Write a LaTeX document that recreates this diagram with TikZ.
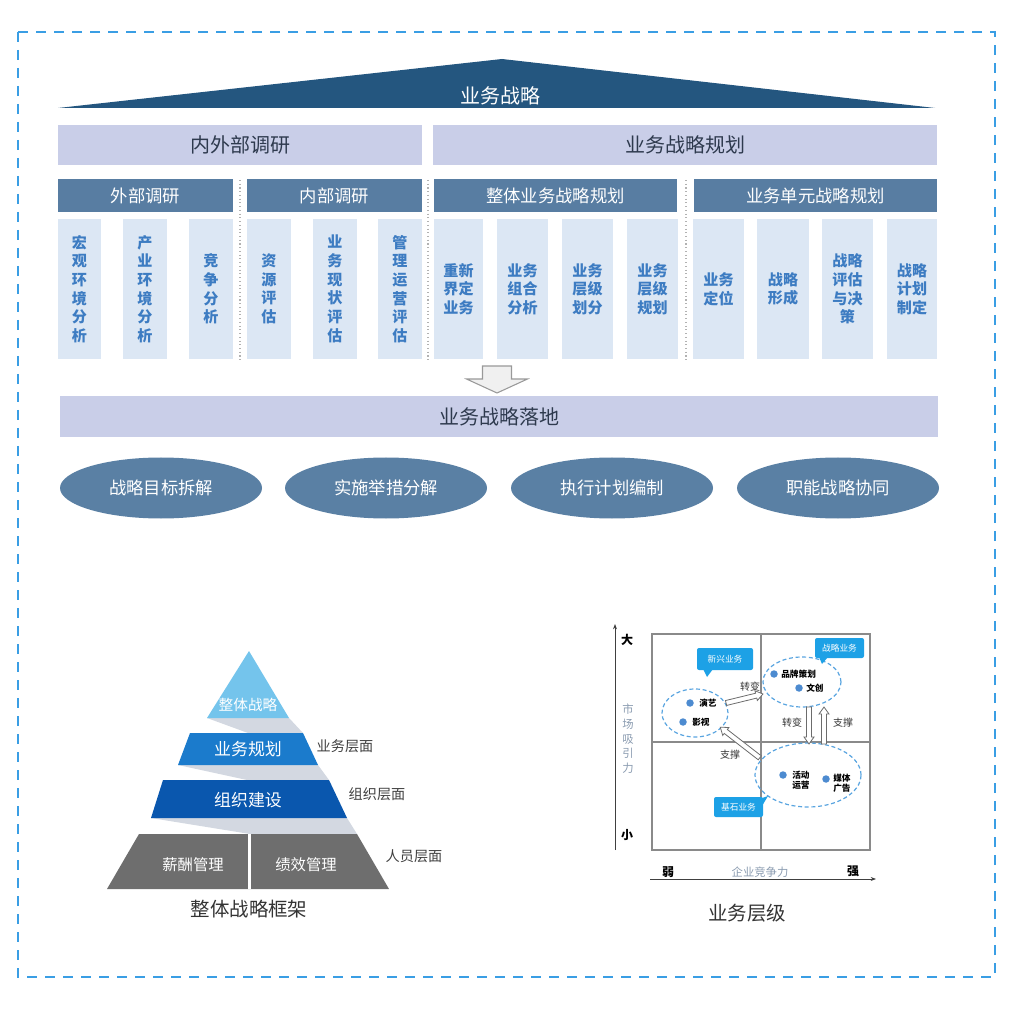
\documentclass[tikz,border=0pt]{standalone}
\usepackage{fontspec}
\setmainfont{Noto Sans CJK SC}
\usetikzlibrary{shapes.geometric,calc,arrows.meta}
\definecolor{bord}{HTML}{3A9EE4}
\definecolor{roof}{HTML}{24567F}
\definecolor{lav}{HTML}{C9CEE8}
\definecolor{hdr}{HTML}{587DA2}
\definecolor{colf}{HTML}{DCE7F4}
\definecolor{colt}{HTML}{3D7CC2}
\definecolor{dtxt}{HTML}{2E3A4E}
\definecolor{ellf}{HTML}{5A80A4}
\definecolor{pyt}{HTML}{74C4EC}
\definecolor{py1}{HTML}{1B7BCC}
\definecolor{py2}{HTML}{0A57AE}
\definecolor{py3}{HTML}{6E6E6E}
\definecolor{band}{HTML}{D3D8E1}
\definecolor{gridc}{HTML}{8A8A8A}
\definecolor{axt}{HTML}{8A9BB0}
\definecolor{dell}{HTML}{5AA5E0}
\definecolor{dotc}{HTML}{4D8BD0}
\definecolor{callc}{HTML}{1DA1E6}
\newcommand\rbox[7]{\node[#6, inner sep=0pt, outer sep=0pt, minimum width={(#4-#2)*0.75}, minimum height={(#5-#3)*0.75}] (#1) at ({(#2+#4)/2},{(#3+#5)/2}) {#7};}
\newcommand\harrow[7]{\draw[#7, shift={#1}, rotate=#2] ({-#3/2},{-#4}) -- ({#3/2-#6},{-#4}) -- ({#3/2-#6},{-#5}) -- ({#3/2},0) -- ({#3/2-#6},{#5}) -- ({#3/2-#6},{#4}) -- ({-#3/2},{#4}) -- cycle;}
\begin{document}
\begin{tikzpicture}[x=0.75pt,y=-0.75pt,
  lavbox/.style={fill=lav, text=dtxt, font=\fontsize{15}{18}\selectfont},
  hdrbox/.style={fill=hdr, text=white, font=\fontsize{13}{16}\selectfont},
  colbox/.style={fill=colf, text=colt, align=center, font=\fontsize{11.3}{14}\selectfont\bfseries},
  sepline/.style={draw=gray!60, dotted, line width=0.8pt},
  ellbox/.style={ellipse, fill=ellf, text=white, inner sep=0pt, minimum width=202*0.75, minimum height=61*0.75, font=\fontsize{13}{16}\selectfont},
  lbltxt/.style={text=black!75, font=\fontsize{10.6}{13}\selectfont},
  captxt/.style={text=black!80, font=\fontsize{14.6}{17}\selectfont},
  dashell/.style={ellipse, draw=dell, dash pattern=on 3pt off 2pt, line width=0.9pt, inner sep=0pt},
  bdot/.style={circle, fill=dotc, inner sep=0pt, minimum size=7.5*0.75},
  dlbl/.style={font=\fontsize{6.5}{7.5}\selectfont\bfseries, align=left, inner sep=0pt},
  smalltxt/.style={text=black!80, font=\fontsize{7.5}{9}\selectfont},
  callbox/.style={fill=callc, text=white, rounded corners=1.5pt, font=\fontsize{6.5}{8}\selectfont},
  harr/.style={draw=gray!85!black, fill=white, line width=0.6pt, line join=miter}
]
\useasboundingbox (0,0) rectangle (1014,1012);
\draw[bord, line width=1.5pt, dash pattern=on 7.5pt off 6pt] (18,32) rectangle (995,977);

% roof
\coordinate (rl) at (58,108); \coordinate (rt) at (502,59); \coordinate (rr) at (935,108);
\fill[roof] (rl) -- (rt) -- (rr) -- cycle;
\node[text=white, font=\fontsize{15}{18}\selectfont] (roof) at (500,96) {业务战略};

% row 1
\rbox{r1a}{58}{125}{422}{165}{lavbox}{内外部调研}
\rbox{r1b}{433}{125}{937}{165}{lavbox}{业务战略规划}

% row 2
\rbox{h1}{58}{179}{233}{212}{hdrbox}{外部调研}
\rbox{h2}{247}{179}{422}{212}{hdrbox}{内部调研}
\rbox{h3}{434}{179}{677}{212}{hdrbox}{整体业务战略规划}
\rbox{h4}{694}{179}{937}{212}{hdrbox}{业务单元战略规划}

% columns
\rbox{c1}{58}{219}{101}{359}{colbox}{宏\\观\\环\\境\\分\\析}
\rbox{c2}{123}{219}{167}{359}{colbox}{产\\业\\环\\境\\分\\析}
\rbox{c3}{189}{219}{233}{359}{colbox}{竞\\争\\分\\析}
\rbox{c4}{247}{219}{291}{359}{colbox}{资\\源\\评\\估}
\rbox{c5}{313}{219}{357}{359}{colbox}{业\\务\\现\\状\\评\\估}
\rbox{c6}{378}{219}{422}{359}{colbox}{管\\理\\运\\营\\评\\估}
\rbox{c7}{434}{219}{483}{359}{colbox}{重新\\界定\\业务}
\rbox{c8}{497}{219}{548}{359}{colbox}{业务\\组合\\分析}
\rbox{c9}{562}{219}{613}{359}{colbox}{业务\\层级\\划分}
\rbox{c10}{627}{219}{678}{359}{colbox}{业务\\层级\\规划}
\rbox{c11}{693}{219}{744}{359}{colbox}{业务\\定位}
\rbox{c12}{757}{219}{809}{359}{colbox}{战略\\形成}
\rbox{c13}{822}{219}{873}{359}{colbox}{战略\\评估\\与决\\策}
\rbox{c14}{887}{219}{937}{359}{colbox}{战略\\计划\\制定}

% dotted separators
\coordinate (s1t) at (240,180); \coordinate (s1b) at (240,362);
\coordinate (s2t) at (428,180); \coordinate (s2b) at (428,362);
\coordinate (s3t) at (686,180); \coordinate (s3b) at (686,362);
\draw[sepline] (s1t) -- (s1b); \draw[sepline] (s2t) -- (s2b); \draw[sepline] (s3t) -- (s3b);

% down arrow
\harrow{(497,379.5)}{-90}{27}{14.5}{30.5}{14}{draw=gray!80, fill=gray!12, line width=0.8pt}

% landing band
\rbox{land}{60}{396}{938}{437}{lavbox}{业务战略落地}

% ellipses
\node[ellbox] (e1) at (161,488) {战略目标拆解};
\node[ellbox] (e2) at (386,488) {实施举措分解};
\node[ellbox] (e3) at (612,488) {执行计划编制};
\node[ellbox] (e4) at (838,488) {职能战略协同};

% ---------- pyramid ----------
\fill[band] (207,718) -- (289,718) -- (303,733) -- (248,733) -- cycle;
\fill[band] (178,765) -- (318,765) -- (329,780) -- (247,780) -- cycle;
\fill[band] (151,818) -- (347,818) -- (357,834) -- (250,834) -- cycle;
\fill[pyt] (249,651) -- (289,718) -- (207,718) -- cycle;
\fill[py1] (190,733) -- (303,733) -- (318,765) -- (178,765) -- cycle;
\fill[py2] (163,780) -- (329,780) -- (347,818) -- (151,818) -- cycle;
\fill[py3] (139,834) -- (357,834) -- (389,889) -- (107,889) -- cycle;
\draw[white, line width=2.25pt] (249,834) -- (249,889);
\node[text=white, font=\fontsize{11}{13}\selectfont] (p0) at (248,705) {整体战略};
\node[text=white, font=\fontsize{12.7}{15}\selectfont] (p1) at (248,749) {业务规划};
\node[text=white, font=\fontsize{12.7}{15}\selectfont] (p2) at (248,800) {组织建设};
\node[text=white, font=\fontsize{11.5}{14}\selectfont] (p3) at (193,865) {薪酬管理};
\node[text=white, font=\fontsize{11.5}{14}\selectfont] (p4) at (306,865) {绩效管理};
\node[lbltxt] (l1) at (345,746) {业务层面};
\node[lbltxt] (l2) at (377,794) {组织层面};
\node[lbltxt] (l3) at (414,856) {人员层面};
\node[captxt] (cap1) at (249,909) {整体战略框架};

% ---------- matrix ----------
\rbox{mat}{652}{634}{870}{850}{draw=gridc, line width=1.1pt}{}
\draw[gridc, line width=1.1pt] (mat.north) -- (mat.south);
\draw[gridc, line width=1.1pt] (mat.west) -- (mat.east);
\coordinate (yb) at (615,850); \coordinate (yt) at (615,624);
\coordinate (xl) at (650,879); \coordinate (xr) at (876,879);
\draw[black!75, line width=0.6pt, -{Stealth[length=4pt,width=3pt]}] (yb) -- (yt);
\draw[black!75, line width=0.6pt, -{Stealth[length=4pt,width=3pt]}] (xl) -- (xr);
\node[font=\fontsize{9}{11}\selectfont\bfseries] (big) at (627,640) {大};
\node[font=\fontsize{9}{11}\selectfont\bfseries] (sm) at (627,835) {小};
\node[font=\fontsize{9}{11}\selectfont\bfseries] (weak) at (668,872) {弱};
\node[font=\fontsize{9}{11}\selectfont\bfseries] (strong) at (853,871) {强};
\node[text=axt, align=center, font=\fontsize{8.5}{11}\selectfont] (ylab) at (628,739) {市\\场\\吸\\引\\力};
\node[text=axt, font=\fontsize{8.5}{10}\selectfont] (xlab) at (760,872) {企业竞争力};
\node[captxt] (cap2) at (747,913) {业务层级};

% dashed groups
\node[dashell, minimum width=66*0.75, minimum height=48*0.75] (g1) at (695,713) {};
\node[dashell, minimum width=78*0.75, minimum height=50*0.75] (g2) at (802,682) {};
\node[dashell, minimum width=106*0.75, minimum height=64*0.75] (g3) at (808,775) {};

% dots and labels
\node[bdot] (d1) at (690,703) {}; \node[dlbl, anchor=west] (t1) at (699,703) {演艺};
\node[bdot] (d2) at (683,722) {}; \node[dlbl, anchor=west] (t2) at (692,722) {影视};
\node[bdot] (d3) at (774,674) {}; \node[dlbl, anchor=west] (t3) at (781,674) {品牌策划};
\node[bdot] (d4) at (799,688) {}; \node[dlbl, anchor=west] (t4) at (806,688) {文创};
\node[bdot] (d5) at (783,775) {}; \node[dlbl, anchor=west] (t5) at (792,780) {活动\\运营};
\node[bdot] (d6) at (826,779) {}; \node[dlbl, anchor=west] (t6) at (833,783) {媒体\\广告};

% hollow arrows
\harrow{(744.5,698.5)}{13.7}{38}{2.5}{5}{7}{harr}
\harrow{(809,725.5)}{-90}{37}{2.5}{5}{7}{harr}
\harrow{(824,725.5)}{90}{37}{2.5}{5}{7}{harr}
\harrow{(740,742.5)}{142.2}{50}{2.5}{5}{7}{harr}
\node[smalltxt] (a1) at (750,687) {转变};
\node[smalltxt] (a2) at (792,723) {转变};
\node[smalltxt] (a3) at (843,723) {支撑};
\node[smalltxt] (a4) at (730,755) {支撑};

% callouts
\rbox{k1}{697}{648}{753}{670}{callbox}{新兴业务}
\fill[callc] (703,669) -- (713,669) -- (707,677) -- cycle;
\rbox{k2}{815}{638}{864}{658}{callbox}{战略业务}
\fill[callc] (819,657) -- (828,657) -- (822,664) -- cycle;
\rbox{k3}{714}{797}{763}{817}{callbox}{基石业务}
\fill[callc] (762,798) -- (762,806) -- (768,796) -- cycle;
\end{tikzpicture}
\end{document}
